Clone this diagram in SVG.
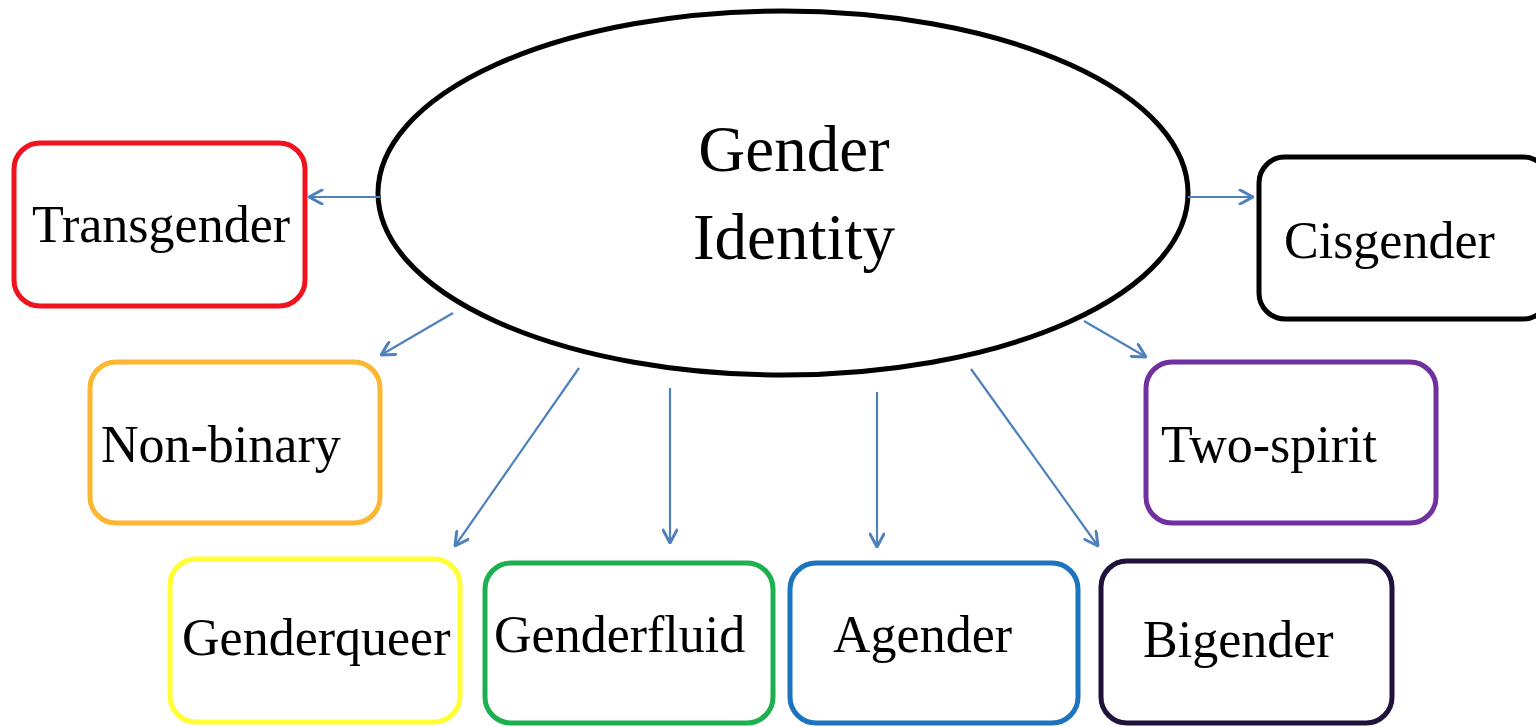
<svg xmlns="http://www.w3.org/2000/svg" width="1536" height="727" viewBox="0 0 1536 727">
<defs>
<style>
.box{fill:#fff;stroke-width:5}
.lbl{font-family:"Liberation Serif","Times New Roman",serif;font-size:52px;fill:#000}
.big{font-family:"Liberation Serif","Times New Roman",serif;font-size:65px;fill:#000;text-anchor:middle}
.con line{stroke:#4F81BD;stroke-width:2.2;marker-end:url(#ah)}
</style>
<marker id="ah" viewBox="0 0 16 16" refX="15" refY="8" markerWidth="16" markerHeight="16" markerUnits="userSpaceOnUse" orient="auto">
<path d="M2,1 L15,8 L2,15" fill="none" stroke="#4F81BD" stroke-width="3" stroke-linecap="round" stroke-linejoin="round"/>
</marker>
</defs>
<rect width="1536" height="727" fill="#fff"/>
<g id="center">
<ellipse cx="783" cy="193" rx="405" ry="182" fill="#fff" stroke="#000" stroke-width="5"/>
<text class="big" x="794" y="171">Gender</text>
<text class="big" x="794" y="259">Identity</text>
</g>
<g id="transgender"><rect class="box" x="14" y="143" width="291" height="163" rx="26" stroke="#F0131E"/><text class="lbl" x="32" y="242">Transgender</text></g>
<g id="cisgender"><rect class="box" x="1259" y="157" width="290" height="162" rx="26" stroke="#000"/><text class="lbl" x="1284" y="258">Cisgender</text></g>
<g id="nonbinary"><rect class="box" x="90" y="362" width="290" height="161" rx="26" stroke="#FBB731"/><text class="lbl" x="101" y="462">Non-binary</text></g>
<g id="twospirit"><rect class="box" x="1146" y="362" width="290" height="161" rx="26" stroke="#7030A0"/><text class="lbl" x="1161" y="462">Two-spirit</text></g>
<g id="genderqueer"><rect class="box" x="170" y="559" width="290" height="163" rx="26" stroke="#FFFF33"/><text class="lbl" x="182" y="655">Genderqueer</text></g>
<g id="genderfluid"><rect class="box" x="485" y="563" width="288" height="160" rx="26" stroke="#1DB050"/><text class="lbl" x="494" y="652">Genderfluid</text></g>
<g id="agender"><rect class="box" x="790" y="563" width="288" height="160" rx="26" stroke="#1E73BE"/><text class="lbl" x="833" y="652">Agender</text></g>
<g id="bigender"><rect class="box" x="1101" y="561" width="291" height="162" rx="26" stroke="#20123A"/><text class="lbl" x="1143" y="657">Bigender</text></g>
<g id="connectors" class="con">
<line x1="380" y1="197" x2="309" y2="197"/>
<line x1="1188" y1="197" x2="1253" y2="197"/>
<line x1="453" y1="313" x2="381" y2="355"/>
<line x1="579" y1="368" x2="455" y2="546"/>
<line x1="670" y1="388" x2="670" y2="543"/>
<line x1="877" y1="392" x2="877" y2="547"/>
<line x1="971" y1="369" x2="1098" y2="546"/>
<line x1="1084" y1="321" x2="1146" y2="357"/>
</g>
</svg>
